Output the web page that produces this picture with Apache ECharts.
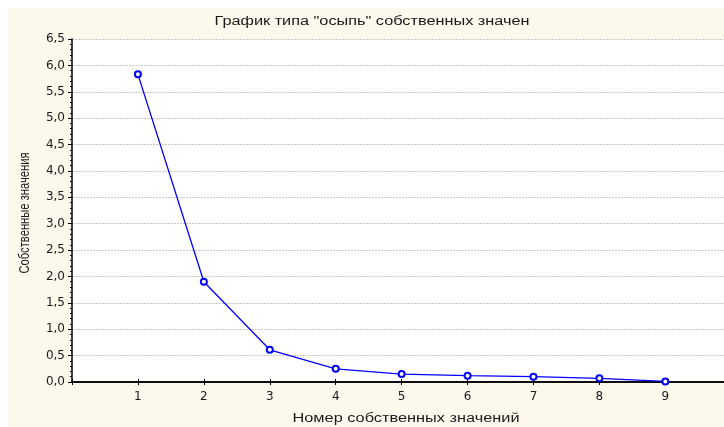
<!DOCTYPE html>
<html><head><meta charset="utf-8">
<script src="https://cdn.jsdelivr.net/npm/echarts@6/dist/echarts.min.js"></script>
<style>html,body{margin:0;padding:0;background:#fff}#c{width:724px;height:427px}</style>
</head><body><div id="c"></div>
<script>
const eigenNumbers = [1, 2, 3, 4, 5, 6, 7, 8, 9];
const eigenValues = [5.83, 1.90, 0.61, 0.25, 0.15, 0.12, 0.10, 0.07, 0.01];
const titleText = 'График типа "осыпь" собственных значен';
const xName = 'Номер собственных значений';
const yName = 'Собственные значения';

const txt = '#1a1a1a';
const ctx = document.createElement('canvas').getContext('2d');
function fitScale(text, font, target) {
  ctx.font = font;
  return target / ctx.measureText(text).width;
}
const titleFont = '12px "Liberation Sans", Arial, sans-serif';
const xNameFont = '12px "Liberation Sans", Arial, sans-serif';
const yNameFont = '15px "Liberation Sans", Arial, sans-serif';

const chart = echarts.init(document.getElementById('c'), null, {renderer: 'canvas'});
chart.setOption({
  backgroundColor: '#ffffff',
  animation: false,
  graphic: [
    {type: 'rect', z: -10, shape: {x: 8, y: 8, width: 716, height: 419}, style: {fill: '#fdf8ec'}},
    {type: 'text', x: 372, y: 22, scaleX: fitScale(titleText, titleFont, 315),
      style: {text: titleText, font: titleFont, fill: txt, align: 'center', verticalAlign: 'middle'}},
    {type: 'text', x: 406, y: 419, scaleX: fitScale(xName, xNameFont, 227),
      style: {text: xName, font: xNameFont, fill: txt, align: 'center', verticalAlign: 'middle'}},
    {type: 'text', x: 25, y: 213, rotation: Math.PI / 2, scaleX: fitScale(yName, yNameFont, 121),
      style: {text: yName, font: yNameFont, fill: txt, align: 'center', verticalAlign: 'middle'}}
  ],
  grid: {left: 72, top: 39, right: 0, bottom: 45, show: true, backgroundColor: '#ffffff', borderWidth: 0},
  xAxis: [{
    type: 'value', min: 0, max: 9.89, interval: 1, position: 'bottom',
    axisLine: {show: true, onZero: false, lineStyle: {color: '#000', width: 1.5}},
    axisTick: {show: true, inside: true, length: 3, lineStyle: {color: '#000'}},
    axisLabel: {fontFamily: 'DejaVu Sans', fontSize: 12, color: txt, margin: 9, showMaxLabel: false,
      formatter: v => (eigenNumbers.indexOf(v) >= 0 ? String(v) : '')},
    splitLine: {show: false}
  }, {
    type: 'value', min: 0, max: 9.89, interval: 1, position: 'top',
    axisLine: {show: true, lineStyle: {color: '#000', width: 1.5}},
    axisTick: {show: true, inside: true, length: 3, lineStyle: {color: '#000'}},
    axisLabel: {show: false}, splitLine: {show: false}
  }],
  yAxis: {
    type: 'value', min: 0, max: 6.5, interval: 0.5,
    axisLine: {show: true, lineStyle: {color: '#000', width: 1.5}},
    axisTick: {show: true, length: 4, lineStyle: {color: '#000'}},
    minorTick: {show: true, splitNumber: 5, length: 2, lineStyle: {color: '#000'}},
    axisLabel: {fontFamily: 'DejaVu Sans', fontSize: 12, color: txt, margin: 7,
      formatter: v => v.toFixed(1).replace('.', ',')},
    splitLine: {show: true, lineStyle: {color: '#c8c8c8', type: [2, 1], width: 1}}
  },
  series: [{
    type: 'line', xAxisIndex: 0,
    data: eigenNumbers.map((n, i) => [n, eigenValues[i]]),
    symbol: 'emptyCircle', symbolSize: 6, clip: false,
    lineStyle: {color: '#0000ff', width: 1.3},
    itemStyle: {color: '#0000ff', borderWidth: 1.2}
  }]
});
</script></body></html>
